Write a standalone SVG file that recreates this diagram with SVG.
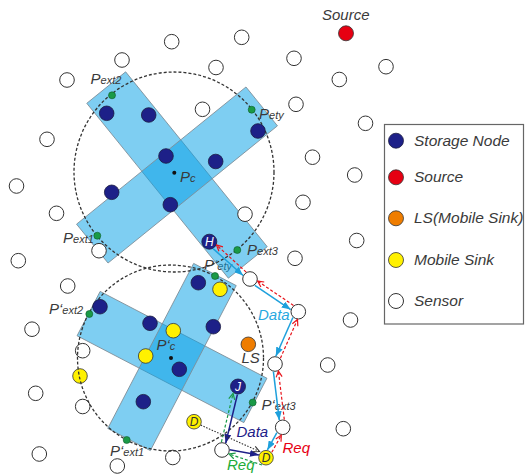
<svg xmlns="http://www.w3.org/2000/svg" width="525" height="474" viewBox="0 0 525 474">
<defs>
<style>
.sensor{fill:#fff;stroke:#333;stroke-width:1}
.storage{fill:#1d2088;stroke:#1a1a40;stroke-width:0.8}
.mobile{fill:#fff100;stroke:#333;stroke-width:0.8}
.ls{fill:#ef7d00;stroke:#333;stroke-width:0.8}
.src{fill:#e60012;stroke:#333;stroke-width:0.8}
.ext{fill:#1a9a47;stroke:#0c5a28;stroke-width:0.6}
.band{fill:rgb(7,161,230);fill-opacity:0.52;stroke:#7d8c96;stroke-width:0.8}
.range{fill:none;stroke:#333;stroke-width:1.3;stroke-dasharray:3 2}
.lbl{font-family:"Liberation Sans",Arial,sans-serif;font-style:italic;fill:#3a3a3a;font-size:15px}
.sub{font-size:11px}
.in{font-family:"Liberation Sans",Arial,sans-serif;font-style:italic;font-size:12px;text-anchor:middle}
.leg{font-family:"Liberation Sans",Arial,sans-serif;font-style:italic;fill:#3a3a3a;font-size:15.5px}
.data{stroke:#1ea0dc;stroke-width:1.5;fill:none;marker-end:url(#ah-blue)}
.req{stroke:#e8141c;stroke-width:1.2;stroke-dasharray:3 2;fill:none;marker-end:url(#ah-red)}
.jdata{stroke:#1d2088;stroke-width:1.5;fill:none;marker-end:url(#ah-navy)}
.greq{stroke:#1a9a47;stroke-width:1.2;stroke-dasharray:3 2;fill:none;marker-end:url(#ah-green)}
.dot{stroke:#333;stroke-width:1.1;stroke-dasharray:1.5 1.5;fill:none;marker-end:url(#ah-black)}
</style>
<marker id="ah-blue" markerUnits="userSpaceOnUse" viewBox="0 0 9 7" refX="9" refY="3.5" markerWidth="9" markerHeight="7" orient="auto"><path d="M0,0 L9,3.5 L0,7 z" fill="#1ea0dc"/></marker>
<marker id="ah-navy" markerUnits="userSpaceOnUse" viewBox="0 0 9 7" refX="9" refY="3.5" markerWidth="9" markerHeight="7" orient="auto"><path d="M0,0 L9,3.5 L0,7 z" fill="#1d2088"/></marker>
<marker id="ah-red" markerUnits="userSpaceOnUse" viewBox="0 0 8 8" refX="7" refY="4" markerWidth="8" markerHeight="8" orient="auto"><path d="M1,1 L7,4 L1,7" fill="none" stroke="#e8141c" stroke-width="1.2"/></marker>
<marker id="ah-green" markerUnits="userSpaceOnUse" viewBox="0 0 8 8" refX="7" refY="4" markerWidth="8" markerHeight="8" orient="auto"><path d="M1,1 L7,4 L1,7" fill="none" stroke="#1a9a47" stroke-width="1.2"/></marker>
<marker id="ah-black" markerUnits="userSpaceOnUse" viewBox="0 0 8 8" refX="7" refY="4" markerWidth="8" markerHeight="8" orient="auto"><path d="M1,1 L7,4 L1,7" fill="none" stroke="#333" stroke-width="1.1"/></marker>
</defs>
<rect width="525" height="474" fill="#fff"/>

<text class="lbl" x="204" y="270">P‘<tspan class="sub">ety</tspan></text>

<g id="zone-top">
<rect class="band" x="-112.5" y="-25" width="225" height="50" transform="translate(177,175) rotate(51)"/>
<rect class="band" x="-109" y="-25" width="218" height="50" transform="translate(177,175) rotate(-39)"/>
</g>
<g id="zone-bottom">
<rect class="band" x="-94" y="-25" width="188" height="50" transform="translate(172,357) rotate(27.5)"/>
<rect class="band" x="-93" y="-24" width="186" height="48" transform="translate(172,357) rotate(-62.5)"/>
</g>

<g id="sensors">
<circle class="sensor" cx="171.7" cy="41.7" r="7.3"/>
<circle class="sensor" cx="241.7" cy="37.3" r="7.3"/>
<circle class="sensor" cx="122" cy="60" r="7.3"/>
<circle class="sensor" cx="216" cy="67.5" r="7.3"/>
<circle class="sensor" cx="67" cy="80" r="7.3"/>
<circle class="sensor" cx="202.5" cy="109.3" r="7.3"/>
<circle class="sensor" cx="47" cy="139.3" r="7.3"/>
<circle class="sensor" cx="16.5" cy="186" r="7.3"/>
<circle class="sensor" cx="56.5" cy="213.3" r="7.3"/>
<circle class="sensor" cx="245" cy="214.2" r="7.3"/>
<circle class="sensor" cx="294" cy="58.3" r="7.3"/>
<circle class="sensor" cx="339.3" cy="79.5" r="7.3"/>
<circle class="sensor" cx="386" cy="66.7" r="7.3"/>
<circle class="sensor" cx="296" cy="104.3" r="7.3"/>
<circle class="sensor" cx="365.5" cy="123.3" r="7.3"/>
<circle class="sensor" cx="312.5" cy="157.2" r="7.3"/>
<circle class="sensor" cx="354.7" cy="175" r="7.3"/>
<circle class="sensor" cx="303" cy="202.3" r="7.3"/>
<circle class="sensor" cx="356.7" cy="240.5" r="7.3"/>
<circle class="sensor" cx="99" cy="250.7" r="7.3"/>
<circle class="sensor" cx="18.3" cy="260.7" r="7.3"/>
<circle class="sensor" cx="67.7" cy="286" r="7.3"/>
<circle class="sensor" cx="32" cy="329.2" r="7.3"/>
<circle class="sensor" cx="82.7" cy="350.7" r="7.3"/>
<circle class="sensor" cx="35.7" cy="393.3" r="7.3"/>
<circle class="sensor" cx="82.7" cy="406.5" r="7.3"/>
<circle class="sensor" cx="39.3" cy="454" r="7.3"/>
<circle class="sensor" cx="117.3" cy="466" r="7.3"/>
<circle class="sensor" cx="172.8" cy="457.5" r="7.3"/>
<circle class="sensor" cx="295" cy="258.3" r="7.3"/>
<circle class="sensor" cx="350.5" cy="320" r="7.3"/>
<circle class="sensor" cx="327.7" cy="365" r="7.3"/>
<circle class="sensor" cx="343.3" cy="428.7" r="7.3"/>
</g>
<g id="S1"><circle class="sensor" cx="250" cy="279" r="7.3"/></g>
<g id="S2"><circle class="sensor" cx="298.3" cy="311.7" r="7.3"/></g>
<g id="S3"><circle class="sensor" cx="275" cy="364" r="7.3"/></g>
<g id="S4"><circle class="sensor" cx="282.7" cy="427.3" r="7.3"/></g>
<g id="S5"><circle class="sensor" cx="222" cy="450" r="7.3"/></g>
<g id="M-edge"><circle class="mobile" cx="80" cy="376" r="7.3"/></g>

<g id="range-top"><circle class="range" cx="174" cy="172" r="100"/></g>
<g id="range-bottom"><circle class="range" cx="170.5" cy="358" r="93"/></g>

<g id="storage-top">
<circle class="storage" cx="106.7" cy="113.3" r="7.3"/>
<circle class="storage" cx="148.7" cy="115" r="7.3"/>
<circle class="storage" cx="166" cy="156" r="7.3"/>
<circle class="storage" cx="215.7" cy="161.5" r="7.3"/>
<circle class="storage" cx="111.7" cy="192.3" r="7.3"/>
<circle class="storage" cx="170.3" cy="204.7" r="7.3"/>
<circle class="storage" cx="258" cy="131" r="7.3"/>
</g>
<g id="H"><circle class="storage" cx="209.3" cy="241.7" r="7.5"/><text class="in" x="209.3" y="246" fill="#fff">H</text></g>
<g id="storage-bottom">
<circle class="storage" cx="100" cy="306.7" r="7.3"/>
<circle class="storage" cx="150" cy="323.3" r="7.3"/>
<circle class="storage" cx="198.3" cy="282.7" r="7.3"/>
<circle class="storage" cx="213.3" cy="326.7" r="7.3"/>
<circle class="storage" cx="179.3" cy="369.3" r="7.3"/>
<circle class="storage" cx="143.3" cy="401.7" r="7.3"/>
</g>
<g id="J"><circle class="storage" cx="238" cy="386.5" r="7.5"/><text class="in" x="238" y="391" fill="#fff">J</text></g>
<g id="mobile-sinks">
<circle class="mobile" cx="220" cy="289.3" r="7.3"/>
<circle class="mobile" cx="173.3" cy="330.7" r="7.3"/>
<circle class="mobile" cx="145.7" cy="356" r="7.3"/>
</g>
<g id="D1"><circle class="mobile" cx="194" cy="421.7" r="7.3"/><text class="in" x="194" y="426" fill="#333">D</text></g>
<g id="D2"><circle class="mobile" cx="266" cy="457.7" r="7.3"/><text class="in" x="266" y="462" fill="#333">D</text></g>
<g id="LS"><circle class="ls" cx="248.3" cy="344.3" r="7.3"/><text class="lbl" x="241.5" y="362.5">LS</text></g>
<g id="Source"><circle class="src" cx="346" cy="33.3" r="7.5"/><text class="lbl" x="322" y="20">Source</text></g>

<g id="ext-points">
<circle class="ext" cx="112" cy="95.3" r="3.5"/>
<circle class="ext" cx="251.7" cy="109.7" r="3.5"/>
<circle class="ext" cx="97.3" cy="235.7" r="3.5"/>
<circle class="ext" cx="237.3" cy="250" r="3.5"/>
<circle class="ext" cx="215" cy="276" r="3.5"/>
<circle class="ext" cx="89.3" cy="314" r="3.5"/>
<circle class="ext" cx="126.7" cy="440" r="3.5"/>
<circle class="ext" cx="252.7" cy="402.5" r="3.5"/>
<circle cx="174.3" cy="172.7" r="2" fill="#111"/>
<circle cx="171" cy="358" r="2" fill="#111"/>
</g>

<g id="labels">
<text class="lbl" x="90.5" y="84">P<tspan class="sub">ext2</tspan></text>
<text class="lbl" x="259" y="118.5">P<tspan class="sub">ety</tspan></text>
<text class="lbl" x="63" y="243">P<tspan class="sub">ext1</tspan></text>
<text class="lbl" x="247" y="254.5">P<tspan class="sub">ext3</tspan></text>
<text class="lbl" x="180" y="181.5">P<tspan class="sub">c</tspan></text>
<text class="lbl" x="49" y="313.5">P‘<tspan class="sub">ext2</tspan></text>
<text class="lbl" x="156.5" y="350">P‘<tspan class="sub">c</tspan></text>
<text class="lbl" x="110" y="455.5">P‘<tspan class="sub">ext1</tspan></text>
<text class="lbl" x="261.5" y="409.5">P‘<tspan class="sub">ext3</tspan></text>
</g>

<g id="connectors">
<line class="data" x1="213.1" y1="248.6" x2="243.1" y2="275.5"/>
<line class="data" x1="254.8" y1="285.3" x2="290.7" y2="309.6"/>
<line class="data" x1="292.9" y1="317.5" x2="275.8" y2="356.2"/>
<line class="data" x1="273.4" y1="371.7" x2="279.3" y2="420.2"/>
<line class="data" x1="276.9" y1="432.7" x2="267.4" y2="449.9"/>
<line class="req" x1="271.8" y1="452.3" x2="281.3" y2="435.1"/>
<line class="req" x1="284.3" y1="419.6" x2="278.4" y2="371.1"/>
<line class="req" x1="280.4" y1="358.2" x2="297.5" y2="319.5"/>
<line class="req" x1="293.5" y1="305.4" x2="257.6" y2="281.1"/>
<line class="req" x1="246.2" y1="272.1" x2="216.5" y2="245"/>
<line class="jdata" x1="237.4" y1="394.5" x2="225.7" y2="443.2"/>
<line class="jdata" x1="229.7" y1="449.8" x2="258.9" y2="454.9"/>
<line class="greq" x1="262" y1="465" x2="229" y2="454"/>
<line class="greq" x1="221.4" y1="442.1" x2="233.1" y2="393.4"/>
<line class="dot" x1="200.7" y1="425.1" x2="259.5" y2="451.5"/>
<text class="lbl" x="258" y="320" style="fill:#29a8e0">Data</text>
<text class="lbl" x="236.5" y="437" style="fill:#1d2088">Data</text>
<text class="lbl" x="282.5" y="453" style="fill:#e60012">Req</text>
<text class="lbl" x="227" y="469.5" style="fill:#22ac38">Req</text>
</g>

<g id="legend">
<rect x="384.5" y="124.5" width="139" height="199.5" fill="#fff" stroke="#666" stroke-width="1.2"/>
<circle class="storage" cx="396" cy="140.7" r="7.5"/>
<text class="leg" x="414" y="145.7">Storage Node</text>
<circle class="src" cx="396" cy="177.3" r="7.5"/>
<text class="leg" x="414" y="182">Source</text>
<circle class="ls" cx="396" cy="218.3" r="7.5"/>
<text class="leg" x="414" y="223.3">LS(Mobile Sink)</text>
<circle class="mobile" cx="396" cy="260" r="7.5"/>
<text class="leg" x="414" y="265">Mobile Sink</text>
<circle class="sensor" cx="396" cy="301" r="7.5"/>
<text class="leg" x="414" y="306">Sensor</text>
</g>
</svg>
